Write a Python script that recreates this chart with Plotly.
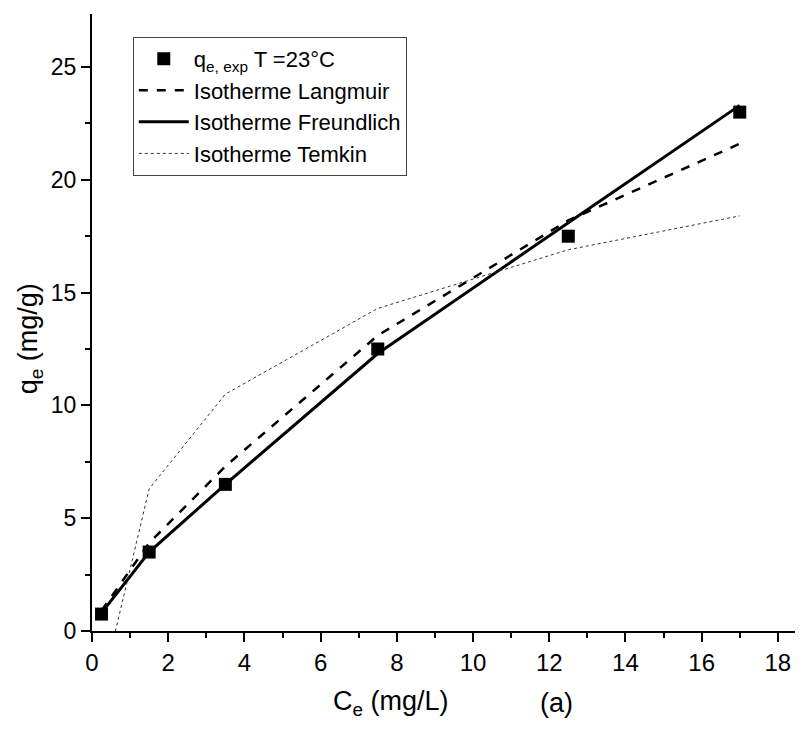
import plotly.graph_objects as go

# Data
ce_exp = [0.25, 1.5, 3.5, 7.5, 12.5, 17.0]
qe_exp = [0.75, 3.5, 6.5, 12.5, 17.5, 23.0]
qe_langmuir = [0.9, 3.9, 7.3, 13.1, 18.2, 21.6]
qe_freundlich = [0.8, 3.5, 6.5, 12.3, 18.1, 23.3]
qe_temkin = [-2.6, 6.3, 10.5, 14.3, 16.9, 18.4]

x_ticks = [0, 2, 4, 6, 8, 10, 12, 14, 16, 18]
y_ticks = [0, 5, 10, 15, 20, 25]

FONT = "Liberation Sans, Arial"

fig = go.Figure()
fig.add_trace(go.Scatter(x=ce_exp, y=qe_exp, mode="markers",
                         marker=dict(symbol="square", size=13, color="black"),
                         cliponaxis=False,
                         name="q<sub>e, exp</sub> T =23°C"))
fig.add_trace(go.Scatter(x=ce_exp, y=qe_langmuir, mode="lines",
                         line=dict(color="black", width=2.5, dash="dash"),
                         name="Isotherme Langmuir"))
fig.add_trace(go.Scatter(x=ce_exp, y=qe_freundlich, mode="lines",
                         line=dict(color="black", width=3),
                         name="Isotherme Freundlich"))
fig.add_trace(go.Scatter(x=ce_exp, y=qe_temkin, mode="lines",
                         line=dict(color="#333333", width=1, dash="dot"),
                         name="Isotherme Temkin"))

fig.update_layout(
    width=807, height=729,
    margin=dict(l=92, r=12, t=14, b=98),
    plot_bgcolor="white", paper_bgcolor="white",
    font=dict(family=FONT, size=20, color="black"),
    showlegend=True,
    legend=dict(x=0.058, y=0.963, xanchor="left", yanchor="top",
                bordercolor="#444444", borderwidth=1, bgcolor="white",
                font=dict(family=FONT, size=22), tracegroupgap=0,
                itemwidth=50),
    xaxis=dict(range=[0, 18.45], tickvals=x_ticks, showline=True, linecolor="black",
               linewidth=2, ticks="outside", ticklen=9, tickwidth=2, tickcolor="black",
               showgrid=False, zeroline=False, tickfont=dict(size=24),
               minor=dict(dtick=1, tick0=0, ticks="outside", ticklen=5, tickwidth=2, tickcolor="black")),
    yaxis=dict(range=[0, 27.35], tickvals=y_ticks, showline=True, linecolor="black",
               linewidth=2, ticks="outside", ticklen=9, tickwidth=2, tickcolor="black",
               showgrid=False, zeroline=False, tickfont=dict(size=23),
               minor=dict(dtick=2.5, tick0=0, ticks="outside", ticklen=5, tickwidth=2, tickcolor="black")),
)

fig.add_annotation(text="C<sub>e</sub> (mg/L)", x=7.85, y=-0.117, xref="x", yref="paper",
                   showarrow=False, font=dict(family=FONT, size=27), xanchor="center", yanchor="middle")
fig.add_annotation(text="(a)", x=12.18, y=-0.117, xref="x", yref="paper",
                   showarrow=False, font=dict(family=FONT, size=27), xanchor="center", yanchor="middle")
fig.add_annotation(text="q<sub>e</sub> (mg/g)", x=-0.088, y=0.473, xref="paper", yref="paper",
                   textangle=-90, showarrow=False, font=dict(family=FONT, size=27),
                   xanchor="center", yanchor="middle")

fig.write_html("out.html")
